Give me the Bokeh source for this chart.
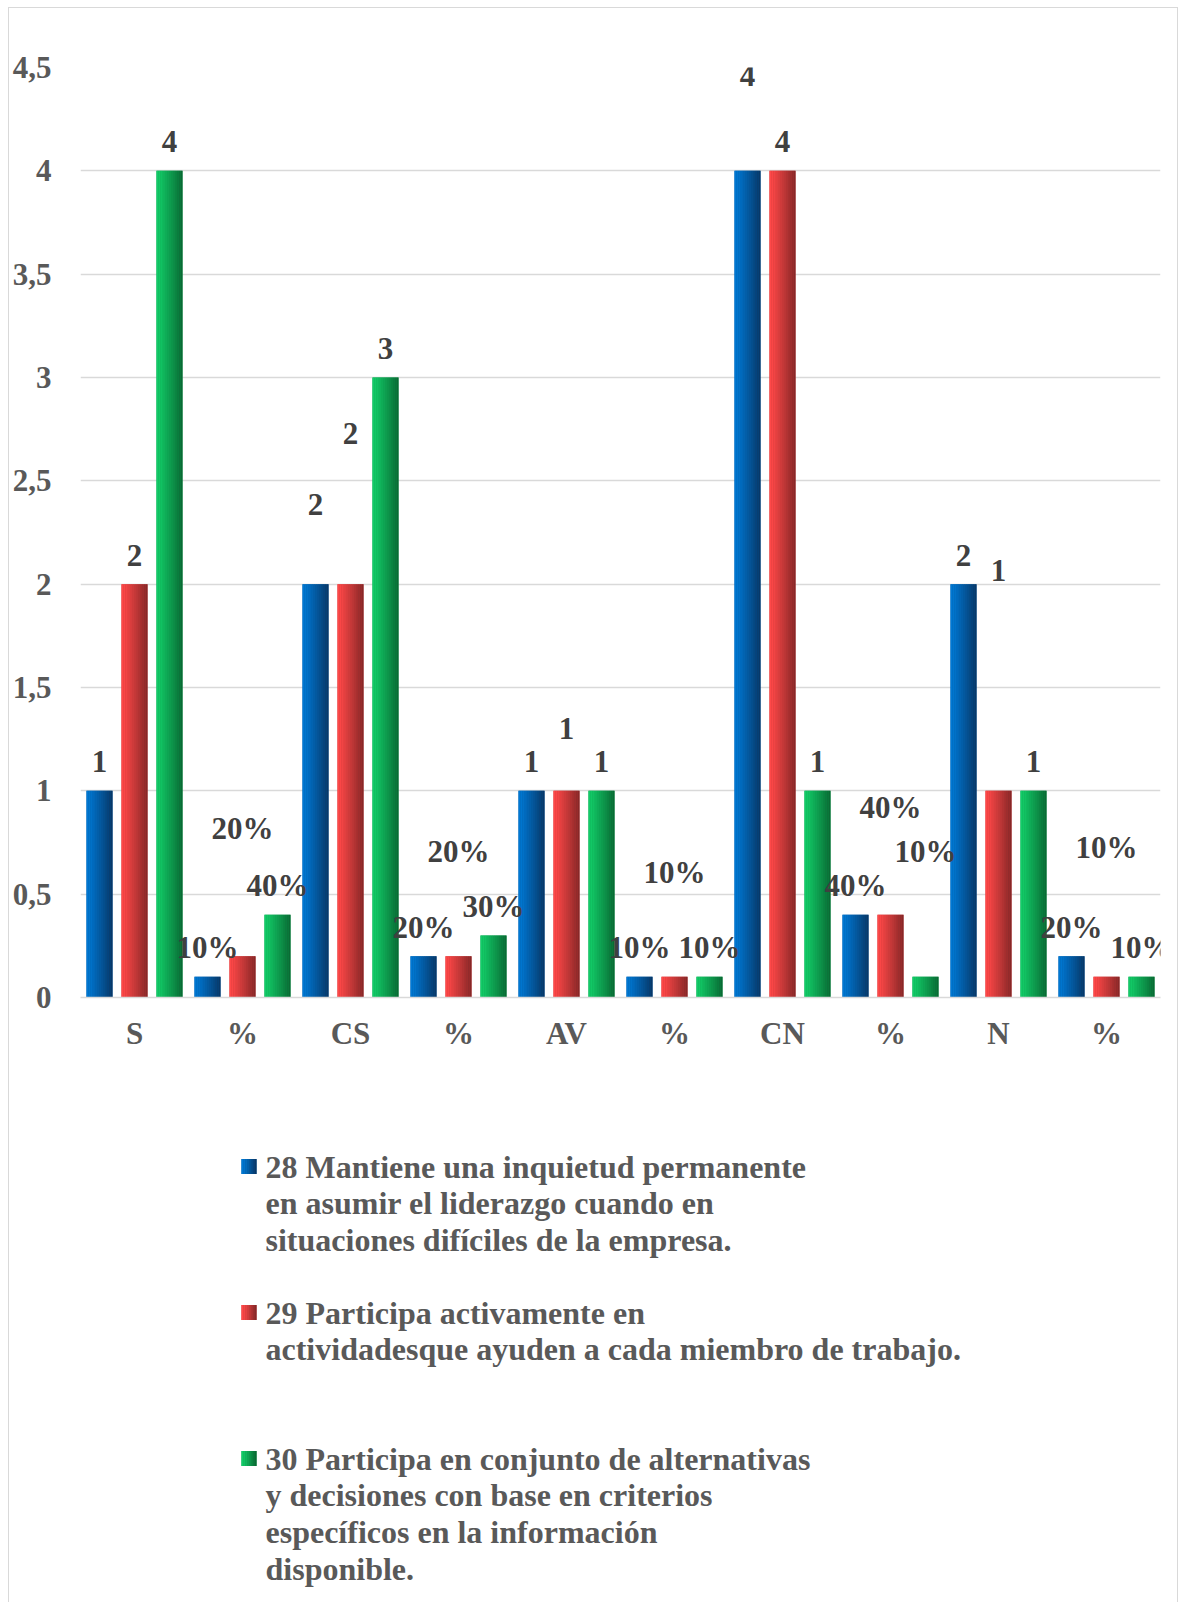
import numpy as np
from bokeh.plotting import figure
from bokeh.models import Range1d, FixedTicker, CustomJSTickFormatter, ColumnDataSource
from bokeh.layouts import column
from bokeh.core.properties import value
from bokeh.embed import file_html
from bokeh.resources import INLINE

# ---- data -------------------------------------------------------------
categories = ["S", "%", "CS", "%", "AV", "%", "CN", "%", "N", "%"]
item_28 = [1, 0.1, 2, 0.2, 1, 0.1, 4, 0.4, 2, 0.2]
item_29 = [2, 0.2, 2, 0.2, 1, 0.1, 4, 0.4, 1, 0.1]
item_30 = [4, 0.4, 3, 0.3, 1, 0.1, 1, 0.1, 1, 0.1]
y_ticks = [0, 0.5, 1, 1.5, 2, 2.5, 3, 3.5, 4, 4.5]

series_lines = [
    ["28 Mantiene una inquietud permanente",
     "en asumir el liderazgo cuando en",
     "situaciones difíciles de la empresa."],
    ["29 Participa activamente en",
     "actividadesque ayuden a cada miembro de trabajo."],
    ["30 Participa en conjunto de alternativas",
     "y decisiones con base en criterios",
     "específicos en la información",
     "disponible."],
]

# ---- styling ------------------------------------------------------------
FONT = "Liberation Serif"
AXIS_GRAY = "#595959"
LABEL_GRAY = "#404040"
GRID = "#d9d9d9"

# left (light) and right (dark) colours of each series' horizontal gradient
gradients = [
    ((0, 120, 212), (8, 56, 104)),
    ((255, 72, 72), (135, 40, 40)),
    ((18, 204, 104), (10, 106, 52)),
]
dodge = [-0.324, 0.0, 0.324]
bar_w = 0.241

# extra upward shift (px) of individual value labels that were dragged
label_lift = [
    [0, 0, 51, 0, 0, 0, 66, 0, 0, 0],
    [0, 99, 122, 76, 33, 75, 0, 78, 191, 100],
    [0, 0, 0, 0, 0, 0, 0, 96, 0, 0],
]

W_IN = 1168
CHART_H = 1092
LEGEND_H = 502
PAD_L, PAD_R, PAD_T = 71, 17, 59
PAGE_X0, PAGE_Y0 = 9, 8          # inner top-left corner of the bordered box


def rgb_hex(c):
    return "#%02x%02x%02x" % tuple(int(round(v)) for v in c)


def mix(a, b, t):
    return tuple(a[i] + (b[i] - a[i]) * t for i in range(3))


def gradient_vbars(p, xs, tops, width, left, right, n=14):
    xs = np.asarray(xs, dtype=float)
    p.vbar(x=xs, top=tops, bottom=0, width=width,
           fill_color=rgb_hex(mix(left, right, 0.5)), line_color=None)
    sw = width / n
    for k in range(n):
        t = k / (n - 1)
        xk = xs - width / 2 + (k + 0.5) * sw
        p.vbar(x=xk, top=tops, bottom=0, width=sw * 1.02,
               fill_color=rgb_hex(mix(left, right, t ** 1.15)), line_color=None)


# ---- chart ----------------------------------------------------------------
x_pos = np.arange(len(categories), dtype=float)

p = figure(width=W_IN, height=CHART_H, output_backend="svg", toolbar_location=None,
           x_range=Range1d(-0.5, len(categories) - 0.5), y_range=Range1d(0, 4.5),
           min_border_left=PAD_L, min_border_right=PAD_R, min_border_top=PAD_T,
           min_border_bottom=103)
p.outline_line_color = None
p.background_fill_color = "white"
p.border_fill_color = "white"

for s, vals in enumerate([item_28, item_29, item_30]):
    left, right = gradients[s]
    gradient_vbars(p, x_pos + dodge[s], vals, bar_w, left, right)

for s, vals in enumerate([item_28, item_29, item_30]):
    texts = []
    for c, v in zip(categories, vals):
        texts.append(f"{int(round(v * 100))}%" if c == "%" else f"{v:g}")
    src = ColumnDataSource(dict(
        x=x_pos + dodge[s], y=vals, t=texts,
        yo=[-29 - l for l in label_lift[s]],
    ))
    p.text(x="x", y="y", text="t", y_offset="yo", source=src,
           text_align="center", text_baseline="middle",
           text_font=value(FONT), text_font_style="bold",
           text_font_size="31px", text_color=LABEL_GRAY)

p.xgrid.visible = False
p.ygrid.grid_line_color = GRID
p.ygrid.grid_line_width = 1.3
p.yaxis.ticker = FixedTicker(ticks=y_ticks)
p.yaxis.formatter = CustomJSTickFormatter(code="return tick.toString().replace('.', ',');")
p.yaxis.axis_line_color = None
p.yaxis.major_label_standoff = 29

p.xaxis.ticker = FixedTicker(ticks=list(range(len(categories))))
p.xaxis.major_label_overrides = {i: c for i, c in enumerate(categories)}
p.xaxis.axis_line_color = GRID
p.xaxis.axis_line_width = 1.3
p.xaxis.major_label_standoff = 18

for ax in (p.xaxis, p.yaxis):
    ax.major_tick_line_color = None
    ax.minor_tick_line_color = None
    ax.major_tick_out = 0
    ax.major_tick_in = 0
    ax.minor_tick_out = 0
    ax.minor_tick_in = 0
    ax.major_label_text_font = FONT
    ax.major_label_text_font_style = "bold"
    ax.major_label_text_font_size = "31px"
    ax.major_label_text_color = AXIS_GRAY

# ---- legend (page pixel space, y pointing down) ---------------------------
# its frame lines up with the chart frame above it
frame_x0 = PAGE_X0 + PAD_L
frame_x1 = PAGE_X0 + W_IN - PAD_R
leg_y0 = PAGE_Y0 + CHART_H
lg = figure(width=W_IN, height=LEGEND_H, output_backend="svg", toolbar_location=None,
            x_range=Range1d(frame_x0, frame_x1), y_range=Range1d(leg_y0 + LEGEND_H, leg_y0),
            x_axis_location=None, y_axis_location=None,
            min_border_left=PAD_L, min_border_right=PAD_R,
            min_border_top=0, min_border_bottom=0)
lg.outline_line_color = None
lg.grid.visible = False

entry_top = [1166, 1312, 1458]
line_step = 36.8
text_x = 265
sq_x0, sq_size = 241, 15

for s, lines in enumerate(series_lines):
    ys = [entry_top[s] + i * line_step for i in range(len(lines))]
    lg.text(x=[text_x] * len(lines), y=ys, text=lines,
            text_align="left", text_baseline="middle",
            text_font=value(FONT), text_font_style="bold",
            text_font_size="32px", text_color=AXIS_GRAY)
    left, right = gradients[s]
    lg.rect(x=[sq_x0 + sq_size / 2], y=[entry_top[s]], width=sq_size, height=sq_size,
            fill_color=rgb_hex(mix(left, right, 0.5)), line_color=None)
    n = 8
    for k in range(n):
        t = k / (n - 1)
        lg.rect(x=[sq_x0 + (k + 0.5) * sq_size / n], y=[entry_top[s]],
                width=sq_size / n * 1.1, height=sq_size,
                fill_color=rgb_hex(mix(left, right, t ** 1.15)), line_color=None)

layout = column(p, lg, margin=(7, 0, 0, 8),
                styles={"border-top": f"1px solid {GRID}",
                        "border-left": f"1px solid {GRID}",
                        "border-right": f"1px solid {GRID}"})

with open("out.html", "w") as f:
    f.write(file_html(layout, INLINE))
